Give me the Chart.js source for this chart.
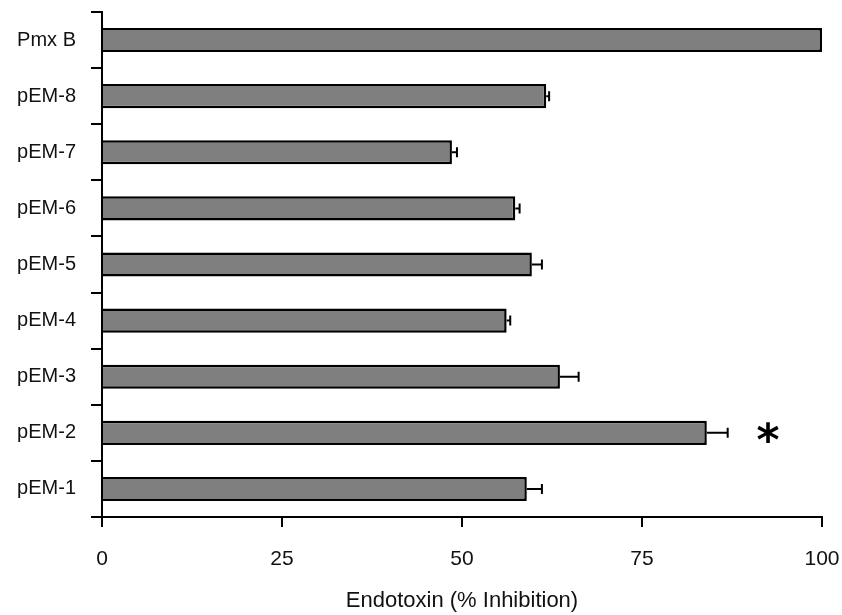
<!DOCTYPE html>
<html>
<head>
<meta charset="utf-8">
<script src="https://cdn.jsdelivr.net/npm/chart.js@4"></script>
<style>
  html, body { margin: 0; padding: 0; background: #fff; }
  #wrap { width: 842px; height: 615px; }
</style>
</head>
<body>
<div id="wrap"><canvas id="endoChart" width="842" height="615"></canvas></div>
<script>
const labels = ["Pmx B", "pEM-8", "pEM-7", "pEM-6", "pEM-5", "pEM-4", "pEM-3", "pEM-2", "pEM-1"];
const inhibition = [100, 61.7, 48.6, 57.4, 59.7, 56.2, 63.6, 84.0, 59.0];
const errors = [0, 0.4, 0.7, 0.6, 1.4, 0.5, 2.6, 2.9, 2.1];
const xTicks = [0, 25, 50, 75, 100];
const marked = { label: "pEM-2", at: 92.5, text: "*" };

const ctx = document.querySelector("#endoChart");

// one-sided error bars + the significance star
const extras = {
  id: "extras",
  afterDatasetsDraw(chart) {
    const c = chart.ctx;
    const x = chart.scales.x;
    const y = chart.scales.y;
    c.save();
    c.strokeStyle = "#000";
    c.lineWidth = 2;
    inhibition.forEach((v, i) => {
      if (!errors[i]) return;
      const x0 = x.getPixelForValue(v);
      const x1 = x.getPixelForValue(v + errors[i]);
      const yy = y.getPixelForValue(i);
      c.beginPath();
      c.moveTo(x0, yy);
      c.lineTo(x1, yy);
      c.moveTo(x1, yy - 5);
      c.lineTo(x1, yy + 5);
      c.stroke();
    });
    const size = 44;
    c.font = "bold " + size + "px 'DejaVu Sans'";
    c.fillStyle = "#000";
    c.textAlign = "center";
    c.textBaseline = "alphabetic";
    c.fillText(marked.text, x.getPixelForValue(marked.at),
      y.getPixelForValue(labels.indexOf(marked.label)) + size * 0.5);
    c.restore();
  },
};

const chart = new Chart(ctx, {
  type: "bar",
  data: {
    labels: labels,
    datasets: [
      {
        data: inhibition,
        backgroundColor: "#7f7f7f",
        borderColor: "#000",
        borderWidth: 2.5,
        categoryPercentage: 1,
        barPercentage: 0.43,
      },
    ],
  },
  options: {
    indexAxis: "y",
    responsive: false,
    animation: false,
    layout: { padding: { top: 12, right: 20, left: 0, bottom: 0 } },
    plugins: { legend: { display: false }, tooltip: { enabled: false } },
    scales: {
      x: {
        min: 0,
        max: 100,
        afterFit: (s) => { s.height = 98; s.paddingLeft = 0; s.paddingRight = 0; },
        afterBuildTicks: (s) => { s.ticks = xTicks.map((v) => ({ value: v })); },
        border: { color: "#000", width: 2 },
        grid: { drawOnChartArea: false, tickLength: 10, color: "#000", lineWidth: 2 },
        ticks: {
          color: "#111",
          padding: 20,
          maxRotation: 0,
          font: { family: "'Liberation Sans', Arial", size: 21 },
        },
        title: {
          display: true,
          text: "Endotoxin (% Inhibition)",
          color: "#111",
          padding: { top: 0, bottom: 1 },
          font: { family: "'Liberation Sans', Arial", size: 22 },
        },
      },
      y: {
        afterFit: (s) => { s.width = 102; s.paddingTop = 0; s.paddingBottom = 0; },
        border: { color: "#000", width: 2 },
        grid: { drawOnChartArea: false, tickLength: 11, color: "#000", lineWidth: 2 },
        ticks: {
          color: "#111",
          padding: 15,
          font: { family: "'Liberation Sans', Arial", size: 20 },
        },
      },
    },
  },
  plugins: [extras],
});
</script>
</body>
</html>
